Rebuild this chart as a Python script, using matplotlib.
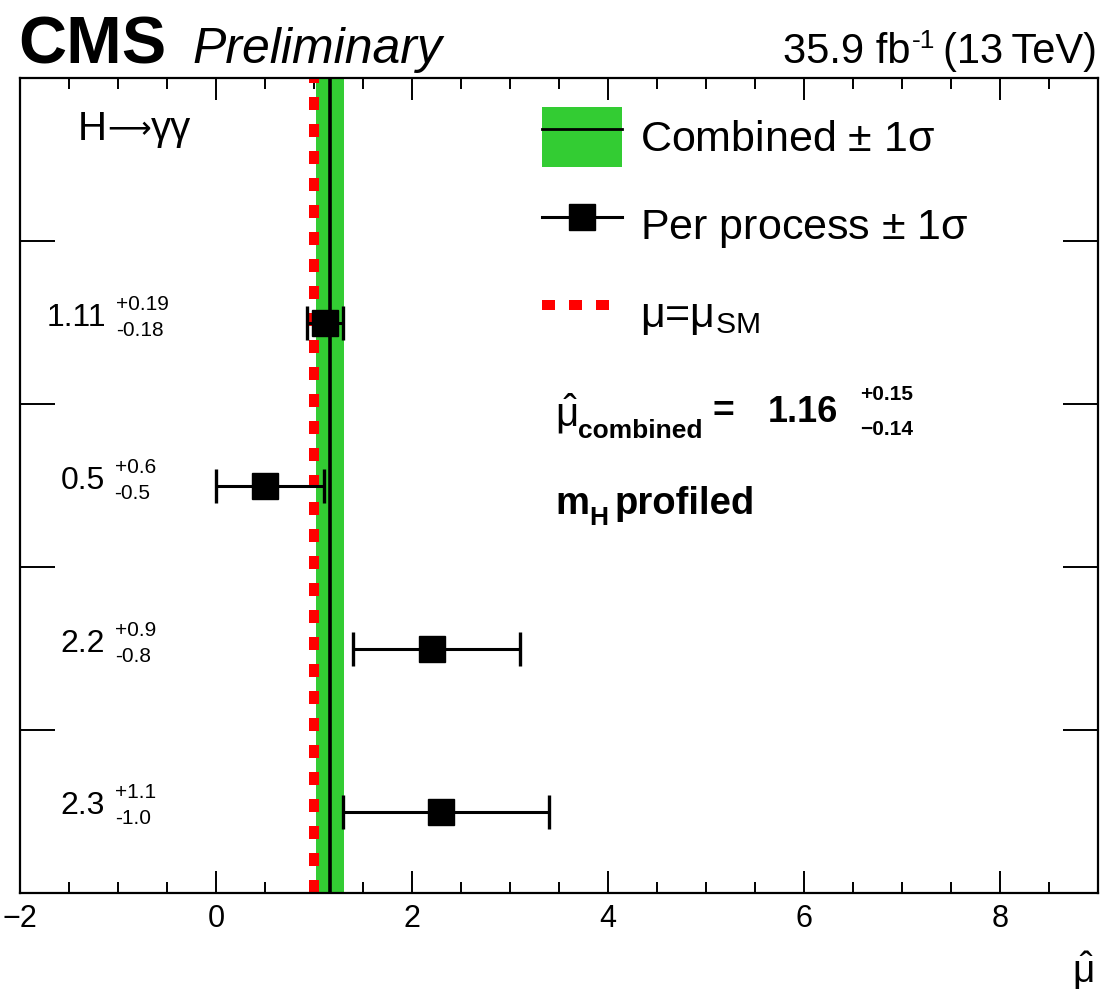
import matplotlib
matplotlib.use("Agg")
import matplotlib.pyplot as plt
from matplotlib.lines import Line2D
from matplotlib.patches import Patch
from matplotlib.ticker import MultipleLocator

plt.rcParams["font.family"] = ["Liberation Sans", "DejaVu Sans"]
plt.rcParams["mathtext.fontset"] = "custom"
plt.rcParams["mathtext.rm"] = "Liberation Sans"
plt.rcParams["mathtext.it"] = "Liberation Sans:italic"
plt.rcParams["mathtext.bf"] = "Liberation Sans:bold"
plt.rcParams["mathtext.default"] = "rm"

# per-process signal strengths (top row first) with asymmetric errors
mu_values = [1.11, 0.5, 2.2, 2.3]
mu_err_up = [0.19, 0.6, 0.9, 1.1]
mu_err_dn = [0.18, 0.5, 0.8, 1.0]
mu_decimals = [2, 1, 1, 1]

# combined fit result and SM expectation
mu_comb = 1.16
mu_comb_up = 0.15
mu_comb_dn = 0.14
mu_sm = 1.0

GREEN = "#33cc33"
RED = "#ff0000"
W, H = 1107, 996


def fx(px):
    return px / W


def fy(py):
    return 1 - py / H


fig = plt.figure(figsize=(W / 100, H / 100), dpi=100)
renderer = fig.canvas.get_renderer()


def width(t):
    return t.get_window_extent(renderer).width


def chain(x, y, parts, align="left"):
    """Lay out text pieces left to right in pixels; each part is
    (string, dy, gap_before, text kwargs). With align='right', x is
    the right edge of the whole run."""
    texts, offsets, cur = [], [], 0.0
    for s, dy, gap, kw in parts:
        cur += gap
        t = fig.text(0, fy(y + dy), s, ha="left", va="baseline", **kw)
        texts.append(t)
        offsets.append(cur)
        cur += width(t)
    x0 = x - cur if align == "right" else x
    for t, off in zip(texts, offsets):
        t.set_x(fx(x0 + off))


ax = fig.add_axes([fx(20), fy(893), (1098 - 20) / W, (893 - 78) / H])

n_rows = len(mu_values) + 1
ax.set_xlim(-2, 9)
ax.set_ylim(0, n_rows)
rows_y = [n_rows - 1.5 - i for i in range(len(mu_values))]

# combined band, SM line, central value
ax.axvspan(mu_comb - mu_comb_dn, mu_comb + mu_comb_up, color=GREEN, lw=0, zorder=1)
sm_style = dict(color=RED, lw=7.2, ls=(0, (1.3, 1.4)))
ax.axvline(mu_sm, zorder=2, **sm_style)
ax.axvline(mu_comb, color="k", lw=2.6, zorder=3)

ax.errorbar(mu_values, rows_y, xerr=[mu_err_dn, mu_err_up], fmt="s",
            color="k", ms=19, lw=2.2, capsize=12, capthick=2.4, zorder=5)

# value labels on the left: main number plus stacked up/down errors
label_cx = 108
for v, up, dn, nd, y in zip(mu_values, mu_err_up, mu_err_dn, mu_decimals, rows_y):
    ypix = H - ax.transData.transform((0, y))[1]
    t_main = fig.text(0, fy(ypix + 3), f"{v:.{nd}f}", fontsize=23,
                      ha="left", va="baseline")
    t_up = fig.text(0, fy(ypix - 13), f"+{up:.{nd}f}", fontsize=15,
                    ha="left", va="baseline")
    t_dn = fig.text(0, fy(ypix + 13), f"-{dn:.{nd}f}", fontsize=15,
                    ha="left", va="baseline")
    w_main = width(t_main)
    w_err = max(width(t_up), width(t_dn))
    gap = 10
    x0 = label_cx - (w_main + gap + w_err) / 2
    t_main.set_x(fx(x0))
    t_up.set_x(fx(x0 + w_main + gap))
    t_dn.set_x(fx(x0 + w_main + gap))

# ticks
ax.xaxis.set_major_locator(MultipleLocator(2))
ax.xaxis.set_minor_locator(MultipleLocator(0.5))
ax.set_yticks(range(1, n_rows))
ax.set_yticklabels([])
ax.tick_params(axis="x", which="major", direction="in", top=True, length=16,
               width=1.4, labelsize=22, pad=8)
ax.tick_params(axis="x", which="minor", direction="in", top=True, length=8,
               width=1.4)
ax.tick_params(axis="y", which="major", direction="in", right=True, length=25,
               width=1.4)
for sp in ax.spines.values():
    sp.set_linewidth(1.6)

# legend
handles = [
    (Patch(facecolor=GREEN, edgecolor="none"), Line2D([], [], color="k", lw=2)),
    Line2D([], [], color="k", lw=2.2, marker="s", ms=19),
    Line2D([], [], **sm_style),
]
labels = [r"Combined $\pm$ 1$\sigma$", r"Per process $\pm$ 1$\sigma$",
          r"$\mu$=$\mu_{\mathrm{SM}}$"]
ax.legend(handles, labels, loc="upper left", bbox_to_anchor=(fx(542), fy(107)),
          bbox_transform=fig.transFigure, frameon=False, fontsize=31,
          borderpad=0, borderaxespad=0, handlelength=1.86, handleheight=1.75,
          handletextpad=0.42, labelspacing=0.66)

# annotations
chain(78, 140, [
    ("H", 0, 0, dict(fontsize=29)),
    ("\u27f6", -2, 0, dict(fontsize=22, family="DejaVu Sans")),
    ("\u03b3\u03b3", 0, 0, dict(fontsize=29)),
])
fig.text(fx(555), fy(427), r"$\hat{\mu}$", fontsize=29,
         ha="left", va="baseline")
fig.text(fx(578), fy(438), "combined", fontsize=19, fontweight="bold",
         ha="left", va="baseline")
fig.text(fx(712), fy(422), "=", fontsize=27, fontweight="bold",
         ha="left", va="baseline")
fig.text(fx(768), fy(422), f"{mu_comb:.2f}", fontsize=26, fontweight="bold",
         ha="left", va="baseline")
fig.text(fx(860), fy(400), f"+{mu_comb_up:.2f}", fontsize=15, fontweight="bold",
         ha="left", va="baseline")
fig.text(fx(860), fy(435), f"\u2212{mu_comb_dn:.2f}", fontsize=15,
         fontweight="bold", ha="left", va="baseline")
chain(555, 514, [
    ("m", 0, 0, dict(fontsize=27.5, fontweight="bold")),
    ("H", 11, 0, dict(fontsize=19, fontweight="bold")),
    ("profiled", 0, 7, dict(fontsize=27.5, fontweight="bold")),
])

# header and axis title
fig.text(fx(18), fy(63), "CMS", fontsize=48, fontweight="bold",
         ha="left", va="baseline")
fig.text(fx(192), fy(63), "Preliminary", fontsize=36, style="italic",
         ha="left", va="baseline")
chain(1097, 63, [
    ("35.9 fb", 0, 0, dict(fontsize=30)),
    ("-1", -15, 1, dict(fontsize=19)),
    ("(13\u2009TeV)", 0, 8, dict(fontsize=30)),
], align="right")
fig.text(fx(1083), fy(983), r"$\hat{\mu}$", fontsize=28,
         ha="center", va="baseline")

fig.savefig("out.png", dpi=100)
